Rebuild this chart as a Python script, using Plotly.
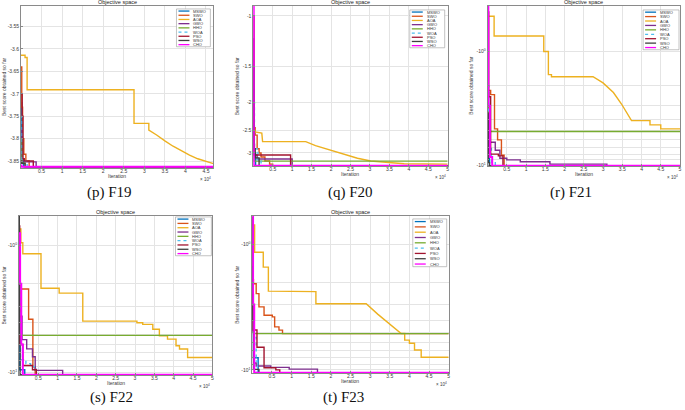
import plotly.graph_objects as go
import numpy as np

W, H = 685, 410

ALGOS = ["MSWO", "SWO", "AOA", "GWO", "HHO", "WOA", "PSO", "WSO", "CHO"]
COLORS = {"MSWO": "#0072BD", "SWO": "#D95319", "AOA": "#EDB120", "GWO": "#7E2F8E",
          "HHO": "#77AC30", "WOA": "#4DBEEE", "PSO": "#A2142F", "WSO": "#404040",
          "CHO": "#FF00FF"}
DASH = {"WOA": "dot"}

# iterations are in units of 10^4; values are best score so far.
# Series are step curves; AOA in F19/F20/F21/F23 has smooth stretches, so it is
# listed point by point (repeated x = a vertical drop) and drawn with straight segments.
F19_X = {
    "MSWO": [0, 0.02, 0.06, 4.68],
    "SWO": [0, 0.02, 0.04, 0.07, 0.12, 0.2, 4.68],
    "AOA": [0, 0.1, 0.1, 0.15, 0.15, 2.75, 2.75, 3.11, 3.11, 3.15, 3.3, 3.5, 3.7, 3.9,
            4.1, 4.3, 4.5, 4.68],
    "GWO": [0, 0.03, 0.08, 0.37, 4.68],
    "HHO": [0, 0.03, 0.1, 4.68],
    "WOA": [0, 0.03, 0.15, 4.68],
    "PSO": [0, 0.03, 0.05, 0.08, 0.3, 4.68],
    "WSO": [0, 0.02, 0.1, 4.68],
    "CHO": [0, 0.01, 4.68],
}
F19_Y = {
    "MSWO": [-3.72, -3.845, -3.8628, -3.8628],
    "SWO": [-3.64, -3.73, -3.80, -3.835, -3.85, -3.8628, -3.8628],
    "AOA": [-3.614, -3.614, -3.619, -3.619, -3.691, -3.691, -3.766, -3.766, -3.781,
            -3.783, -3.792, -3.805, -3.817, -3.827, -3.837, -3.845, -3.850, -3.856],
    "GWO": [-3.78, -3.848, -3.852, -3.8628, -3.8628],
    "HHO": [-3.80, -3.855, -3.8628, -3.8628],
    "WOA": [-3.75, -3.85, -3.8628, -3.8628],
    "PSO": [-3.70, -3.75, -3.845, -3.85, -3.8628, -3.8628],
    "WSO": [-3.85, -3.855, -3.8628, -3.8628],
    "CHO": [-3.86, -3.8628, -3.8628],
}

F20_X = {
    "MSWO": [0, 0.02, 0.06, 5],
    "SWO": [0, 0.05, 0.1, 0.15, 0.2, 0.3, 0.42, 0.5, 5],
    "AOA": [0, 0.04, 0.04, 0.22, 0.24, 1.35, 1.6, 1.85, 2.08, 2.4, 2.68, 3.02, 3.36,
            3.88, 5],
    "GWO": [0, 0.01, 0.03, 0.1, 1.0, 5],
    "HHO": [0, 0.02, 5],
    "WOA": [0, 0.03, 0.12, 0.2, 5],
    "PSO": [0, 0.02, 0.96, 5],
    "WSO": [0, 0.02, 0.05, 0.15, 5],
    "CHO": [0, 0.012, 5],
}
F20_Y = {
    "MSWO": [-1.8, -3.0, -3.322, -3.322],
    "SWO": [-2.45, -2.6, -2.9, -3.0, -3.1, -3.2, -3.28, -3.322, -3.322],
    "AOA": [-2.5, -2.5, -2.535, -2.56, -2.74, -2.74, -2.83, -2.9, -2.97, -3.06, -3.13,
            -3.2, -3.23, -3.27, -3.28],
    "GWO": [-1.2, -2.8, -3.05, -3.15, -3.322, -3.322],
    "HHO": [-2.2, -3.2031, -3.2031],
    "WOA": [-2.0, -2.9, -3.2, -3.322, -3.322],
    "PSO": [-1.0, -3.05, -3.322, -3.322],
    "WSO": [-1.5, -2.9, -3.12, -3.322, -3.322],
    "CHO": [-0.92, -3.322, -3.322],
}

F21_X = {
    "MSWO": [0, 0.02, 0.05, 5],
    "SWO": [0, 0.08, 0.18, 0.26, 0.36, 0.43, 5],
    "AOA": [0, 0.17, 0.17, 1.46, 1.46, 1.58, 1.58, 1.66, 1.66, 2.74, 3.0, 3.27, 3.48,
            3.61, 3.74, 4.22, 4.22, 4.5, 4.5, 5],
    "GWO": [0, 0.03, 0.2, 0.32, 0.5, 0.85, 1.62, 3.1, 5],
    "HHO": [0, 0.02, 5],
    "WOA": [0, 0.03, 0.1, 0.2, 5],
    "PSO": [0, 0.03, 0.08, 0.28, 0.4, 5],
    "WSO": [0, 0.02, 0.05, 5],
    "CHO": [0, 0.02, 0.06, 0.12, 5],
}
F21_Y = {
    "MSWO": [-1.5, -6.0, -10.1532, -10.1532],
    "SWO": [-2.2, -2.4, -4.8, -6.0, -8.2, -10.1532, -10.1532],
    "AOA": [-0.49, -0.49, -0.731, -0.731, -1.0, -1.0, -1.6, -1.6, -1.67, -1.67, -1.89,
            -2.3, -2.9, -3.44, -4.06, -4.06, -4.43, -4.43, -4.8, -4.8],
    "GWO": [-2.3, -6.3, -7.4, -8.7, -9.0, -9.35, -9.8, -10.1532, -10.1532],
    "HHO": [-3.0, -5.0552, -5.0552],
    "WOA": [-2.0, -7.0, -9.5, -10.1532, -10.1532],
    "PSO": [-0.45, -2.5, -8.0, -8.3, -10.1532, -10.1532],
    "WSO": [-3.5, -9.5, -10.1532, -10.1532],
    "CHO": [-0.3, -3.0, -8.5, -10.1532, -10.1532],
}

F22_X = {
    "MSWO": [0, 0.02, 0.15, 5],
    "SWO": [0, 0.02, 0.25, 0.36, 0.42, 5],
    "AOA": [0, 0.05, 0.1, 0.57, 1.04, 1.65, 3.05, 3.2, 3.46, 3.63, 3.84, 4.06, 4.15,
            4.36, 5],
    "GWO": [0, 0.02, 0.08, 0.2, 0.35, 0.42, 1.13, 5],
    "HHO": [0, 0.05, 5],
    "WOA": [0, 0.04, 0.18, 0.3, 0.45, 5],
    "PSO": [0, 0.02, 0.1, 0.35, 0.45, 5],
    "WSO": [0, 0.01, 0.03, 5],
    "CHO": [0, 0.03, 0.06, 0.1, 5],
}
F22_Y = {
    "MSWO": [-3.0, -9.5, -10.4029, -10.4029],
    "SWO": [-0.9, -2.2, -3.8, -9.0, -10.4029, -10.4029],
    "AOA": [-0.74, -0.95, -1.16, -2.17, -2.37, -3.93, -4.05, -4.17, -4.56, -5.13, -5.45,
            -6.14, -6.51, -7.6, -7.6],
    "GWO": [-2.5, -3.6, -5.5, -6.5, -7.5, -9.6, -10.4029, -10.4029],
    "HHO": [-2.0, -5.0877, -5.0877],
    "WOA": [-2.0, -7.9, -8.5, -9.0, -10.4029, -10.4029],
    "PSO": [-0.7, -6.0, -8.8, -9.5, -10.4029, -10.4029],
    "WSO": [-0.5, -5.0, -10.4029, -10.4029],
    "CHO": [-0.8, -2.0, -6.0, -10.4029, -10.4029],
}

F23_X = {
    "MSWO": [0, 0.03, 0.15, 5],
    "SWO": [0, 0.03, 0.1, 0.17, 0.3, 0.51, 0.57, 0.68, 0.77, 5],
    "AOA": [0, 0.06, 0.06, 0.28, 0.28, 0.41, 0.41, 1.02, 1.02, 1.62, 1.62, 2.9, 3.2,
            3.5, 3.79, 3.88, 3.88, 4.0, 4.0, 4.13, 4.13, 4.3, 4.3, 5],
    "GWO": [0, 0.02, 0.04, 0.1, 0.47, 0.94, 1.66, 5],
    "HHO": [0, 0.03, 5],
    "WOA": [0, 0.04, 0.1, 0.13, 5],
    "PSO": [0, 0.02, 0.12, 0.3, 0.6, 0.7, 5],
    "WSO": [0, 0.01, 0.03, 0.17, 5],
    "CHO": [0, 0.02, 0.05, 5],
}
F23_Y = {
    "MSWO": [-4.0, -8.0, -10.5364, -10.5364],
    "SWO": [-1.9, -2.05, -2.46, -3.14, -3.66, -3.77, -4.53, -4.81, -5.1285, -5.1285],
    "AOA": [-0.694, -0.694, -1.15, -1.15, -1.51, -1.51, -2.35, -2.35, -2.37, -2.37,
            -2.96, -2.96, -3.6, -4.3, -5.12, -5.12, -5.78, -5.78, -6.13, -6.13, -6.93,
            -6.93, -7.92, -7.92],
    "GWO": [-1.5, -5.0, -8.8, -9.3, -9.55, -9.85, -10.5364, -10.5364],
    "HHO": [-2.5, -5.1285, -5.1285],
    "WOA": [-3.0, -5.5, -8.5, -10.5364, -10.5364],
    "PSO": [-2.5, -4.8, -6.6, -9.6, -10.0, -10.5364, -10.5364],
    "WSO": [-0.6, -4.0, -9.9, -10.5364, -10.5364],
    "CHO": [-0.55, -3.0, -10.5364, -10.5364],
}

X_TICKS = [0.5, 1, 1.5, 2, 2.5, 3, 3.5, 4, 4.5, 5]
LIN_TICKS = [-3.55, -3.6, -3.65, -3.7, -3.75, -3.8, -3.85]
Q_TICKS = [1, 1.5, 2, 2.5, 3]
LOG_TICKS = [1, 2, 3, 4, 5, 6, 7, 8, 9, 10]

# panel boxes in pixels: left, right, top, bottom
panels = [
    dict(cap="(p) F19", X=F19_X, Y=F19_Y, box=(21, 214, 6, 169), xmax=4.68, kind="lin",
         yr=[-3.866, -3.504], leg=(177, 211, 9, 47), cx=110, cy=193, ysh=-17,
         straight={"AOA"}),
    dict(cap="(q) F20", X=F20_X, Y=F20_Y, box=(254, 449, 6, 167), xmax=5, kind="q",
         yr=[3.335, 0.924], leg=(411, 446, 10, 48), cx=352, cy=193, ysh=-16,
         straight={"AOA"}),
    dict(cap="(r) F21", X=F21_X, Y=F21_Y, box=(489, 682, 6, 167), xmax=5, kind="log",
         yr=[10.22, 0.398], leg=(645, 681, 10, 50), cx=573, cy=193, ysh=-16,
         straight={"AOA"}),
    dict(cap="(s) F22", X=F22_X, Y=F22_Y, box=(19, 213, 217, 377), xmax=5, kind="log",
         yr=[10.47, 0.585], leg=(176, 212, 218, 257), cx=112, cy=399, ysh=-15,
         straight=set()),
    dict(cap="(t) F23", X=F23_X, Y=F23_Y, box=(253, 450, 217, 375), xmax=5, kind="log",
         yr=[10.62, 0.589], leg=(414, 448, 220, 268), cx=345, cy=399, ysh=-16,
         straight={"AOA"}),
]

FONT = "Liberation Sans, Arial, sans-serif"
GRID = "#e4e4e4"
FRAME = "#8a8a8a"
TXT = "#3a3a3a"

fig = go.Figure()
layout = {}
annotations = []
shapes = []

for i, p in enumerate(panels, start=1):
    sx = "" if i == 1 else str(i)
    xa, ya = "x" + sx, "y" + sx
    for a in ALGOS:
        yv = np.array(p["Y"][a])
        if p["kind"] != "lin":
            yv = -yv
        fig.add_trace(go.Scatter(
            x=p["X"][a], y=yv, xaxis=xa, yaxis=ya, mode="lines", name=a,
            line=dict(color=COLORS[a], width=2 if a == "CHO" else 1.4,
                      dash=DASH.get(a, "solid"),
                      shape="linear" if a in p["straight"] else "hv"),
            showlegend=False, hoverinfo="skip"))

    l, r, t, b = p["box"]
    common = dict(showgrid=True, gridcolor=GRID, gridwidth=0.6, zeroline=False,
                  showline=True, mirror=True, linecolor=FRAME, linewidth=0.7,
                  ticks="inside", ticklen=2, tickcolor=FRAME, tickwidth=0.5,
                  tickfont=dict(family=FONT, size=5, color=TXT))
    xt = [v for v in X_TICKS if v <= p["xmax"]]
    layout["xaxis" + sx] = dict(domain=[l / W, r / W], anchor=ya, range=[0, p["xmax"]],
                                tickmode="array", tickvals=xt, ticklabelstandoff=-2,
                                ticktext=[f"{v:g}" for v in xt], **common)
    if p["kind"] == "lin":
        yax = dict(type="linear", range=p["yr"], tickmode="array", tickvals=LIN_TICKS,
                   ticktext=[f"{v:g}" for v in LIN_TICKS])
    elif p["kind"] == "q":
        yax = dict(type="log", range=[np.log10(v) for v in p["yr"]], tickmode="array",
                   tickvals=Q_TICKS, ticktext=[f"-{v:g}" for v in Q_TICKS])
    else:
        yax = dict(type="log", range=[np.log10(v) for v in p["yr"]], tickmode="array",
                   tickvals=LOG_TICKS,
                   ticktext=["-10<sup>0</sup>"] + [" "] * 8 + ["-10<sup>1</sup>"])
    layout["yaxis" + sx] = dict(domain=[1 - b / H, 1 - t / H], anchor=xa, **yax, **common)

    xd, yd = xa + " domain", ya + " domain"
    annotations += [
        dict(text="Objective space", xref=xd, yref=yd, x=0.5, y=1, yanchor="bottom",
             yshift=-1, showarrow=False, font=dict(family=FONT, size=5.5, color="#222")),
        dict(text="Iteration", xref=xd, yref=yd, x=0.5, y=0, yanchor="middle",
             yshift=-8, showarrow=False, font=dict(family=FONT, size=5, color=TXT)),
        dict(text="Best score obtained so far", xref=xd, yref=yd, x=0, y=0.5,
             xanchor="center", xshift=p["ysh"], textangle=-90, showarrow=False,
             font=dict(family=FONT, size=5, color=TXT)),
        dict(text="\u00d7 10<sup>4</sup>", xref=xd, yref=yd, x=1, y=0, xanchor="right",
             yanchor="top", yshift=-6, showarrow=False,
             font=dict(family=FONT, size=4.5, color=TXT)),
        dict(text=p["cap"], xref="paper", yref="paper", x=p["cx"] / W, y=1 - p["cy"] / H,
             xanchor="center", yanchor="middle", showarrow=False,
             font=dict(family="Liberation Serif, Times New Roman, serif", size=15,
                       color="#111")),
    ]

    # hand-drawn legend box (Plotly legends can't be this compact)
    gl, gr, gt, gb = p["leg"]
    shapes.append(dict(type="rect", xref="paper", yref="paper", x0=gl / W, x1=gr / W,
                       y0=1 - gb / H, y1=1 - gt / H, line=dict(color="#9a9a9a", width=0.6),
                       fillcolor="white", layer="above"))
    step = (gb - gt) / len(ALGOS)
    for k, a in enumerate(ALGOS):
        yy = 1 - (gt + (k + 0.5) * step) / H
        shapes.append(dict(type="line", xref="paper", yref="paper", x0=(gl + 2) / W,
                           x1=(gl + 13) / W, y0=yy, y1=yy, layer="above",
                           line=dict(color=COLORS[a], width=1.3,
                                     dash=DASH.get(a, "solid"))))
        annotations.append(dict(text=a, xref="paper", yref="paper", x=(gl + 15) / W, y=yy,
                                xanchor="left", yanchor="middle", showarrow=False,
                                font=dict(family=FONT, size=4, color="#333")))

fig.update_layout(width=W, height=H, margin=dict(l=0, r=0, t=0, b=0),
                  paper_bgcolor="white", plot_bgcolor="white", showlegend=False,
                  annotations=annotations, shapes=shapes, **layout)

fig.write_html("out.html", config={"displayModeBar": False},
               post_script="document.body.style.margin='0px';")
